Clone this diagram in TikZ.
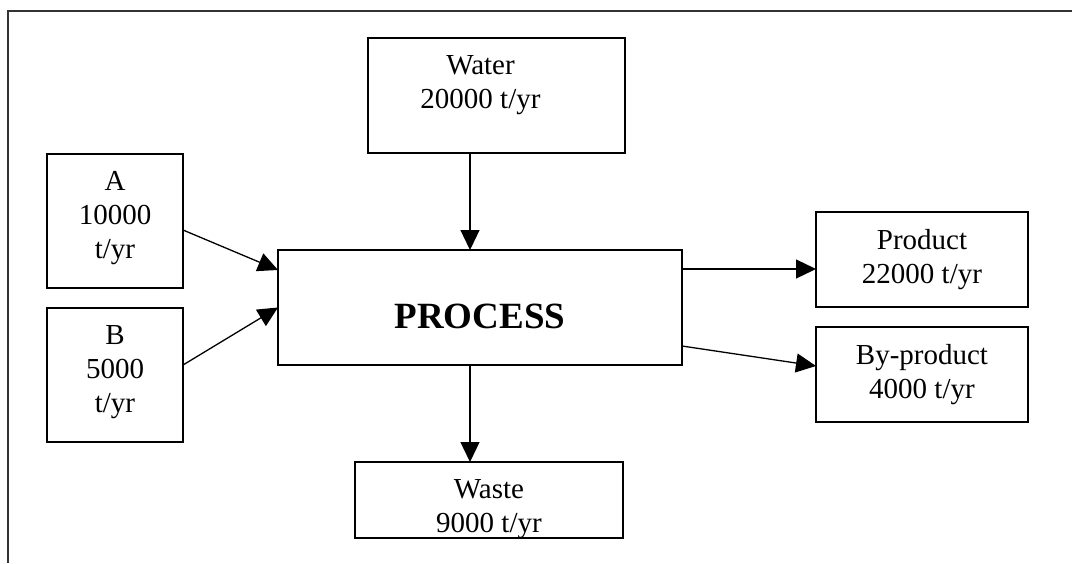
\documentclass[tikz,border=0pt]{standalone}
\usepackage{fontspec}
\setmainfont{Liberation Serif}
\usetikzlibrary{arrows.meta}
\tikzset{
  box/.style={draw=black, line width=1.5pt, rectangle, inner sep=0pt, outer sep=0pt},
  lbl/.style={anchor=north, align=center, inner sep=0pt, font={\fontsize{29}{34}\selectfont}},
  arr/.style={line width=1.3pt, -{Triangle[length=20pt,width=19pt]}},
  frame/.style={line width=2pt, draw=black!80}
}
\begin{document}
\begin{tikzpicture}[x=1pt,y=-1pt]
\useasboundingbox (0,0) rectangle (1072,563);
% frame
\coordinate (ftr) at (1072,11);
\coordinate (ftl) at (8,11);
\coordinate (fbl) at (8,563);
\draw[frame] (ftr) -- (ftl) -- (fbl);
% boxes
\node[box, minimum width=257pt, minimum height=115pt] (water) at (496.5,95.5) {};
\node[box, minimum width=136pt, minimum height=134pt] (A) at (115,221) {};
\node[box, minimum width=136pt, minimum height=134pt] (B) at (115,375) {};
\node[box, minimum width=404pt, minimum height=115pt] (process) at (480,307.5) {};
\node[box, minimum width=212pt, minimum height=95pt] (product) at (922,259.5) {};
\node[box, minimum width=212pt, minimum height=95pt] (byproduct) at (922,374.5) {};
\node[box, minimum width=268pt, minimum height=76pt] (waste) at (489,500) {};
% labels
\node[lbl] (waterl) at ([xshift=-16pt,yshift=-17.3pt]water.north) {Water\\20000 t/yr};
\node[lbl] (Al) at ([yshift=-17.3pt]A.north) {A\\10000\\t/yr};
\node[lbl] (Bl) at ([yshift=-17.3pt]B.north) {B\\5000\\t/yr};
\node[lbl] (productl) at ([yshift=-17.3pt]product.north) {Product\\22000 t/yr};
\node[lbl] (byproductl) at ([yshift=-17.3pt]byproduct.north) {By-product\\4000 t/yr};
\node[lbl] (wastel) at ([yshift=-17.3pt]waste.north) {Waste\\9000 t/yr};
\node[inner sep=0pt, font={\fontsize{37}{42}\selectfont\bfseries}] (processl) at ([yshift=-9pt]process.center) {PROCESS};
% connectors
\draw[arr] ([xshift=-26.5pt]water.south) -- ([xshift=-26.5pt]water.south |- process.north);
\draw[arr] ([yshift=-9pt]A.east) -- ([yshift=37.5pt]process.west);
\draw[arr] ([yshift=10pt]B.east) -- (process.west);
\draw[arr] ([yshift=38.5pt]process.east) -- ([yshift=38.5pt]process.east -| product.west);
\draw[arr] ([yshift=-38.5pt]process.east) -- ([yshift=8.5pt]byproduct.west);
\draw[arr] ([xshift=-10pt]process.south) -- ([xshift=-10pt]process.south |- waste.north);
\end{tikzpicture}
\end{document}
